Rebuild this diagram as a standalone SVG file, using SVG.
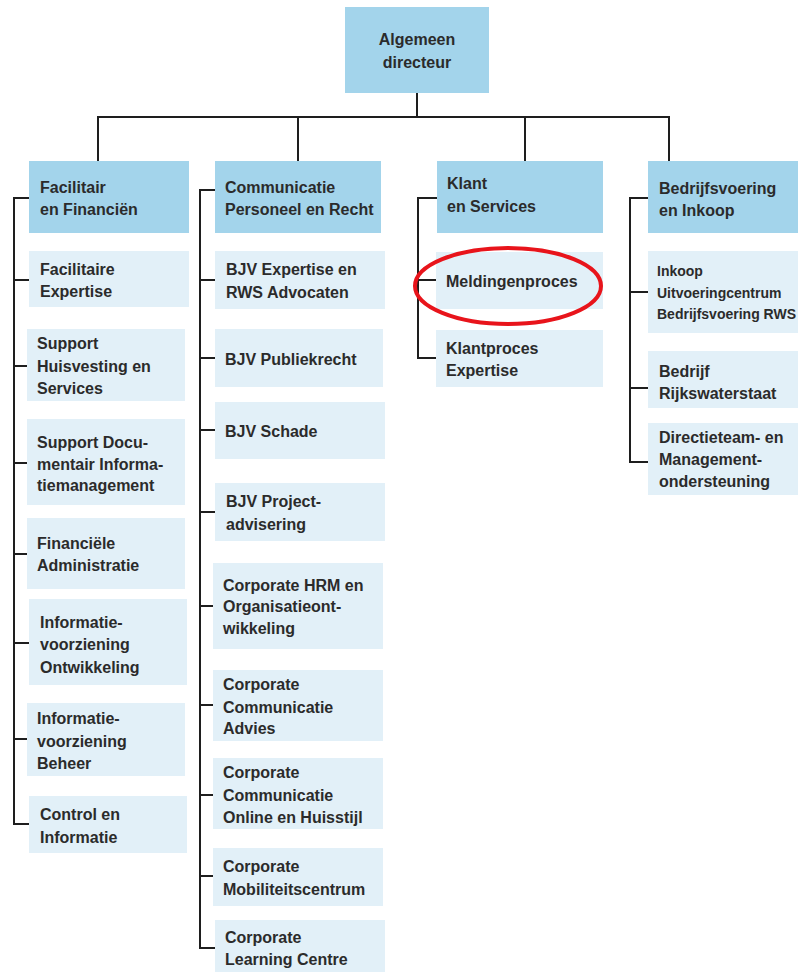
<svg xmlns="http://www.w3.org/2000/svg" width="798" height="972" viewBox="0 0 798 972">
<style>
.hd{fill:#a3d4eb}
.bx{fill:#e2f0f8}
.t{font-family:"Liberation Sans",Arial,sans-serif;font-weight:bold;font-size:16px;fill:#2b2b2b}
.s{font-size:14px}
.ln{fill:none;stroke:#1e1e1e;stroke-width:2}
</style>
<rect width="798" height="972" fill="#ffffff"/>
<g id="connectors">
<path class="ln" d="M417,93 V117 M98,117 H669 M98,116 V161 M298,116 V161 M525,116 V161 M669,116 V161"/>
<path class="ln" d="M29,198 H14 V824 H29 M14,280 H29 M14,366 H27 M14,463 H27 M14,554 H27 M14,643 H29 M14,739 H27"/>
<path class="ln" d="M215,190 H200 V948 H215 M200,280 H215 M200,358 H215 M200,430 H215 M200,512 H215 M200,606 H213 M200,705 H213 M200,795 H213 M200,876 H213"/>
<path class="ln" d="M437,198 H418 V358 H436 M418,280 H436"/>
<path class="ln" d="M648,198 H630 V462 H648 M630,292 H648 M630,388 H648"/>
</g>
<g id="n-top"><rect class="hd" x="345" y="7" width="144" height="86"/><text class="t" x="417" y="45" text-anchor="middle">Algemeen</text><text class="t" x="417" y="68" text-anchor="middle">directeur</text></g>

<g id="n-fin"><rect class="hd" x="29" y="161" width="160" height="72"/><text class="t" x="40" y="193">Facilitair</text><text class="t" x="40" y="215">en Financiën</text></g>
<g id="n-fin1"><rect class="bx" x="29" y="251" width="160" height="56"/><text class="t" x="40" y="275">Facilitaire</text><text class="t" x="40" y="297">Expertise</text></g>
<g id="n-fin2"><rect class="bx" x="27" y="329" width="158" height="72"/><text class="t" x="37" y="349">Support</text><text class="t" x="37" y="372">Huisvesting en</text><text class="t" x="37" y="394">Services</text></g>
<g id="n-fin3"><rect class="bx" x="27" y="419" width="158" height="86"/><text class="t" x="37" y="448">Support Docu-</text><text class="t" x="37" y="470">mentair Informa-</text><text class="t" x="37" y="491">tiemanagement</text></g>
<g id="n-fin4"><rect class="bx" x="27" y="518" width="158" height="71"/><text class="t" x="37" y="549">Financiële</text><text class="t" x="37" y="571">Administratie</text></g>
<g id="n-fin5"><rect class="bx" x="29" y="599" width="158" height="86"/><text class="t" x="40" y="628">Informatie-</text><text class="t" x="40" y="650">voorziening</text><text class="t" x="40" y="673">Ontwikkeling</text></g>
<g id="n-fin6"><rect class="bx" x="27" y="703" width="158" height="73"/><text class="t" x="37" y="724">Informatie-</text><text class="t" x="37" y="747">voorziening</text><text class="t" x="37" y="769">Beheer</text></g>
<g id="n-fin7"><rect class="bx" x="29" y="796" width="158" height="57"/><text class="t" x="40" y="820">Control en</text><text class="t" x="40" y="843">Informatie</text></g>

<g id="n-com"><rect class="hd" x="215" y="161" width="166" height="72"/><text class="t" x="225" y="193">Communicatie</text><text class="t" x="225" y="215">Personeel en Recht</text></g>
<g id="n-com1"><rect class="bx" x="215" y="251" width="170" height="58"/><text class="t" x="226" y="275">BJV Expertise en</text><text class="t" x="226" y="298">RWS Advocaten</text></g>
<g id="n-com2"><rect class="bx" x="215" y="329" width="168" height="58"/><text class="t" x="225" y="365">BJV Publiekrecht</text></g>
<g id="n-com3"><rect class="bx" x="215" y="402" width="170" height="57"/><text class="t" x="225" y="437">BJV Schade</text></g>
<g id="n-com4"><rect class="bx" x="215" y="483" width="170" height="58"/><text class="t" x="226" y="507">BJV Project-</text><text class="t" x="226" y="530">advisering</text></g>
<g id="n-com5"><rect class="bx" x="213" y="563" width="170" height="86"/><text class="t" x="223" y="591">Corporate HRM en</text><text class="t" x="223" y="612">Organisatieont-</text><text class="t" x="223" y="634">wikkeling</text></g>
<g id="n-com6"><rect class="bx" x="213" y="670" width="170" height="71"/><text class="t" x="223" y="690">Corporate</text><text class="t" x="223" y="713">Communicatie</text><text class="t" x="223" y="734">Advies</text></g>
<g id="n-com7"><rect class="bx" x="213" y="758" width="170" height="71"/><text class="t" x="223" y="778">Corporate</text><text class="t" x="223" y="801">Communicatie</text><text class="t" x="223" y="823">Online en Huisstijl</text></g>
<g id="n-com8"><rect class="bx" x="213" y="848" width="170" height="58"/><text class="t" x="223" y="872">Corporate</text><text class="t" x="223" y="895">Mobiliteitscentrum</text></g>
<g id="n-com9"><rect class="bx" x="215" y="920" width="170" height="52"/><text class="t" x="225" y="943">Corporate</text><text class="t" x="225" y="965">Learning Centre</text></g>

<g id="n-kla"><rect class="hd" x="437" y="161" width="166" height="72"/><text class="t" x="447" y="189">Klant</text><text class="t" x="447" y="212">en Services</text></g>
<g id="n-kla1"><rect class="bx" x="436" y="252" width="167" height="57"/><text class="t" x="446" y="287">Meldingenproces</text></g>
<g id="n-kla2"><rect class="bx" x="436" y="330" width="167" height="57"/><text class="t" x="446" y="354">Klantproces</text><text class="t" x="446" y="376">Expertise</text></g>

<g id="n-bed"><rect class="hd" x="648" y="161" width="150" height="72"/><text class="t" x="659" y="194">Bedrijfsvoering</text><text class="t" x="659" y="216">en Inkoop</text></g>
<g id="n-bed1"><rect class="bx" x="648" y="251" width="150" height="82"/><text class="t s" x="657" y="276">Inkoop</text><text class="t s" x="657" y="298">Uitvoeringcentrum</text><text class="t s" x="657" y="319">Bedrijfsvoering RWS</text></g>
<g id="n-bed2"><rect class="bx" x="648" y="351" width="150" height="57"/><text class="t" x="659" y="377">Bedrijf</text><text class="t" x="659" y="399">Rijkswaterstaat</text></g>
<g id="n-bed3"><rect class="bx" x="648" y="423" width="150" height="72"/><text class="t" x="659" y="443">Directieteam- en</text><text class="t" x="659" y="465">Management-</text><text class="t" x="659" y="487">ondersteuning</text></g>

<ellipse cx="508" cy="286" rx="93" ry="38" fill="none" stroke="#e8141b" stroke-width="4"/>
</svg>
